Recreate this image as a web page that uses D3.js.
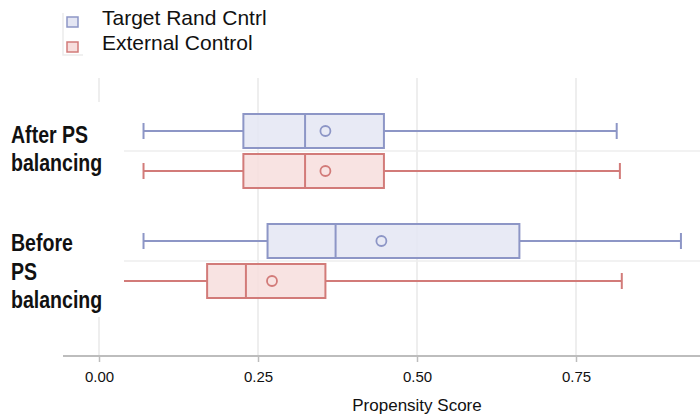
<!DOCTYPE html>
<html>
<head>
<meta charset="utf-8">
<script src="https://cdn.jsdelivr.net/npm/d3@7"></script>
<style>
  html, body { margin: 0; padding: 0; background: #fff; }
  svg { display: block; font-family: "Liberation Sans", Arial, sans-serif; }
</style>
</head>
<body>
<svg id="chart" width="700" height="414"></svg>
<script>
// Comparison groups (rows) and the two series drawn in each
const groups = ["After PS balancing", "Before PS balancing"];
const groupLines = [["After PS", "balancing"], ["Before", "PS", "balancing"]];
const series = ["Target Rand Cntrl", "External Control"];

// Box-plot statistics, one value per group (After, Before)
const targetLow    = [0.070, 0.070];
const targetQ1     = [0.227, 0.265];
const targetMedian = [0.324, 0.372];
const targetMean   = [0.356, 0.444];
const targetQ3     = [0.448, 0.661];
const targetHigh   = [0.814, 0.915];

const externalLow    = [0.070, 0.030];
const externalQ1     = [0.227, 0.170];
const externalMedian = [0.324, 0.231];
const externalMean   = [0.356, 0.272];
const externalQ3     = [0.448, 0.356];
const externalHigh   = [0.819, 0.822];

const xTicks = [0, 0.25, 0.5, 0.75];
const xTitle = "Propensity Score";

const strokeColors = ["#8d96c6", "#d27b79"];
const fillColors   = ["#e4e6f3", "#f7dedd"];

// Flatten into one record per box
const stats = [
  [targetLow, targetQ1, targetMedian, targetMean, targetQ3, targetHigh],
  [externalLow, externalQ1, externalMedian, externalMean, externalQ3, externalHigh]
];
const boxes = [];
groups.forEach((g, gi) => {
  series.forEach((s, si) => {
    const [lo, q1, md, mn, q3, hi] = stats[si].map(a => a[gi]);
    boxes.push({ group: g, series: s, si, lo, q1, md, mn, q3, hi });
  });
});

const svg = d3.select("#chart");

const x = d3.scaleLinear().domain([0, 1]).range([99, 735]);
const yGroup = d3.scaleBand().domain(groups).range([96, 316]).padding(0);
const ySeries = d3.scaleBand().domain(series).range([15, 95]).padding(0);
const boxH = 34, capH = 16;
const yCenter = d => yGroup(d.group) + ySeries(d.series) + ySeries.bandwidth() / 2;

const plotTop = 78, axisY = 356;

// Vertical gridlines
svg.append("g").selectAll("line").data(xTicks).join("line")
  .attr("x1", d => x(d)).attr("x2", d => x(d))
  .attr("y1", plotTop).attr("y2", axisY)
  .attr("stroke", "#e9e9e9").attr("stroke-width", 1.5);

// Separators between the two series of each group
svg.append("g").selectAll("line").data(groups).join("line")
  .attr("x1", 124).attr("x2", 700)
  .attr("y1", d => yGroup(d) + yGroup.bandwidth() / 2)
  .attr("y2", d => yGroup(d) + yGroup.bandwidth() / 2)
  .attr("stroke", "#eeeeee").attr("stroke-width", 1.5);

// Boxes
const bg = svg.append("g").selectAll("g").data(boxes).join("g");

bg.append("line") // lower whisker
  .attr("x1", d => x(d.lo)).attr("x2", d => x(d.q1))
  .attr("y1", yCenter).attr("y2", yCenter)
  .attr("stroke", d => strokeColors[d.si]).attr("stroke-width", 2);
bg.append("line") // upper whisker
  .attr("x1", d => x(d.q3)).attr("x2", d => x(d.hi))
  .attr("y1", yCenter).attr("y2", yCenter)
  .attr("stroke", d => strokeColors[d.si]).attr("stroke-width", 2);
bg.append("line") // lower cap
  .attr("x1", d => x(d.lo)).attr("x2", d => x(d.lo))
  .attr("y1", d => yCenter(d) - capH / 2).attr("y2", d => yCenter(d) + capH / 2)
  .attr("stroke", d => strokeColors[d.si]).attr("stroke-width", 2);
bg.append("line") // upper cap
  .attr("x1", d => x(d.hi)).attr("x2", d => x(d.hi))
  .attr("y1", d => yCenter(d) - capH / 2).attr("y2", d => yCenter(d) + capH / 2)
  .attr("stroke", d => strokeColors[d.si]).attr("stroke-width", 2);
bg.append("rect")
  .attr("x", d => x(d.q1)).attr("width", d => x(d.q3) - x(d.q1))
  .attr("y", d => yCenter(d) - boxH / 2).attr("height", boxH)
  .attr("fill", d => fillColors[d.si]).attr("fill-opacity", 0.85)
  .attr("stroke", d => strokeColors[d.si]).attr("stroke-width", 2);
bg.append("line") // median
  .attr("x1", d => x(d.md)).attr("x2", d => x(d.md))
  .attr("y1", d => yCenter(d) - boxH / 2).attr("y2", d => yCenter(d) + boxH / 2)
  .attr("stroke", d => strokeColors[d.si]).attr("stroke-width", 2);
bg.append("circle") // mean
  .attr("cx", d => x(d.mn)).attr("cy", yCenter).attr("r", 5)
  .attr("fill", "none")
  .attr("stroke", d => strokeColors[d.si]).attr("stroke-width", 1.8);

// Label panel on the left
svg.append("rect").attr("x", 0).attr("y", 102).attr("width", 124).attr("height", 215)
  .attr("fill", "#fff");

const labelBaselines = [[143, 171], [251, 280, 308]];
groupLines.forEach((lines, gi) => {
  lines.forEach((t, li) => {
    const txt = svg.append("text")
      .attr("x", 11).attr("y", labelBaselines[gi][li])
      .attr("font-size", 23).attr("font-weight", "bold").attr("fill", "#111")
      .text(t);
    const w = txt.node().getComputedTextLength();
    txt.attr("textLength", w * 0.85).attr("lengthAdjust", "spacingAndGlyphs");
  });
});

// X axis
svg.append("line").attr("x1", 63).attr("x2", 700).attr("y1", axisY).attr("y2", axisY)
  .attr("stroke", "#bdbdbd").attr("stroke-width", 2);
const axis = svg.append("g").attr("transform", `translate(0,${axisY})`)
  .call(d3.axisBottom(x).tickValues(xTicks).tickFormat(d3.format(".2f")).tickSize(6).tickPadding(9));
axis.select(".domain").remove();
axis.selectAll(".tick line").attr("stroke", "#bdbdbd").attr("stroke-width", 1.5);
axis.selectAll(".tick text")
  .attr("font-family", "Liberation Sans, Arial, sans-serif")
  .attr("font-size", 15).attr("fill", "#111");

svg.append("text").attr("x", x(0.5)).attr("y", 411)
  .attr("text-anchor", "middle").attr("font-size", 17).attr("fill", "#111")
  .text(xTitle);

// Legend
svg.append("path").attr("d", "M63,13V55H83").attr("fill", "none")
  .attr("stroke", "#ececec").attr("stroke-width", 1.5);
const lg = svg.append("g").selectAll("g").data(series).join("g")
  .attr("transform", (d, i) => `translate(0,${i * 25})`);
lg.append("rect").attr("x", 67).attr("y", 17).attr("width", 11).attr("height", 10)
  .attr("fill", (d, i) => fillColors[i]).attr("stroke", (d, i) => strokeColors[i])
  .attr("stroke-width", 1.5);
lg.append("text").attr("x", 102).attr("y", 25)
  .attr("font-size", 21).attr("fill", "#111").text(d => d);
</script>
</body>
</html>
